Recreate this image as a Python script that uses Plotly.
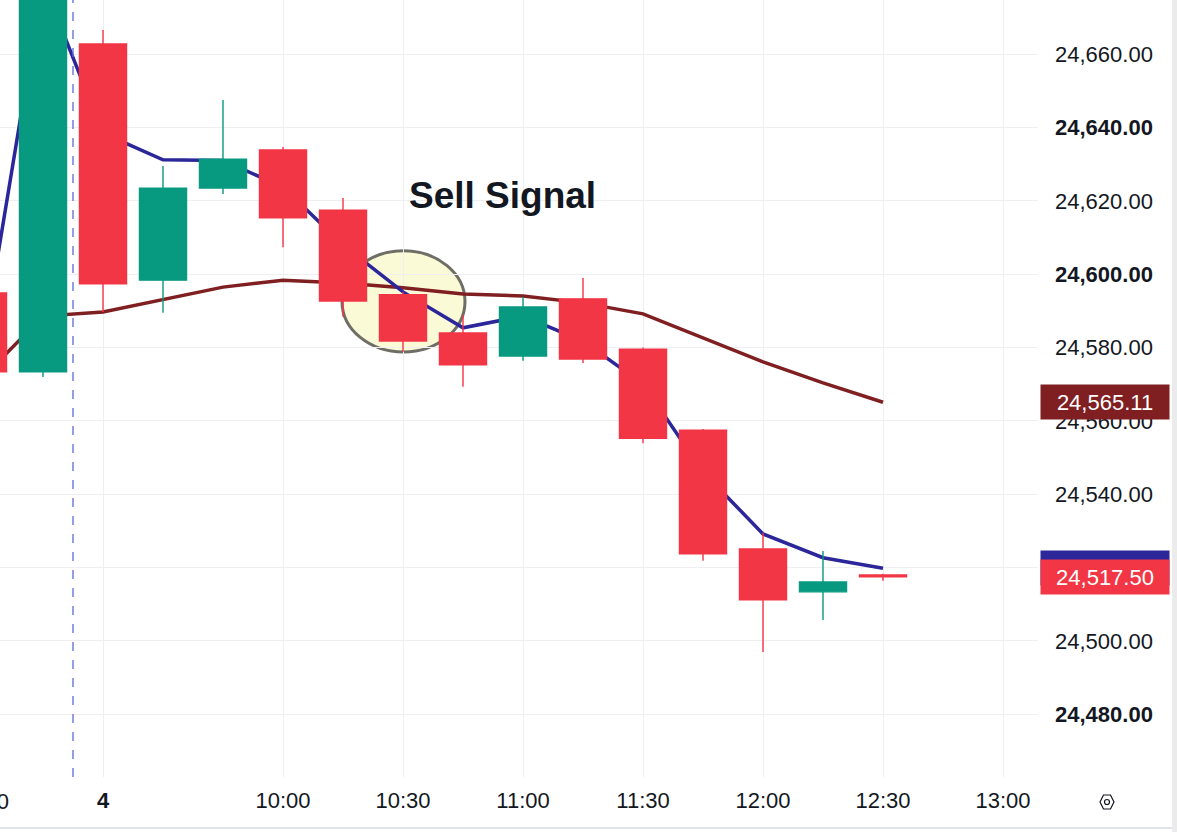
import plotly.graph_objects as go

# 15 minute candles, NIFTY style, previous day's last two bars + day 4 morning
times = ["2024-12-03 15:00", "2024-12-03 15:15",
         "2024-12-04 09:15", "2024-12-04 09:30", "2024-12-04 09:45", "2024-12-04 10:00",
         "2024-12-04 10:15", "2024-12-04 10:30", "2024-12-04 10:45", "2024-12-04 11:00",
         "2024-12-04 11:15", "2024-12-04 11:30", "2024-12-04 11:45", "2024-12-04 12:00",
         "2024-12-04 12:15", "2024-12-04 12:30"]
opens = [24594.9, 24573.4, 24662.8, 24598.4, 24623.5, 24633.9, 24617.5, 24594.4,
         24584.0, 24577.7, 24593.3, 24579.6, 24557.5, 24525.1, 24513.4, 24518.0]
highs = [24597.0, 24712.0, 24666.6, 24629.5, 24647.5, 24634.7, 24620.8, 24595.2,
         24588.9, 24593.8, 24599.0, 24580.0, 24557.8, 24529.5, 24524.5, 24518.3]
lows = [24571.0, 24572.0, 24589.7, 24589.5, 24621.9, 24607.4, 24588.4, 24578.8,
        24569.3, 24576.4, 24575.8, 24553.9, 24521.9, 24497.0, 24505.7, 24516.4]
closes = [24573.4, 24705.0, 24597.4, 24623.5, 24631.4, 24615.4, 24592.7, 24581.8,
          24575.3, 24591.1, 24576.9, 24555.3, 24523.8, 24511.2, 24516.1, 24517.5]

fast_ma = [24580.7, 24679.7, 24638.5, 24631.2, 24631.0, 24623.8, 24608.0, 24595.2,
           24585.4, 24588.6, 24581.8, 24570.1, 24546.1, 24529.2, 24522.7, 24519.81]
slow_ma = [24571.9, 24588.6, 24589.7, 24593.0, 24596.5, 24598.4, 24597.6, 24596.3,
           24594.6, 24594.1, 24592.2, 24589.2, 24582.6, 24576.1, 24570.4, 24565.11]

x_ticks = ["2024-12-04 09:15", "2024-12-04 10:00", "2024-12-04 10:30", "2024-12-04 11:00",
           "2024-12-04 11:30", "2024-12-04 12:00", "2024-12-04 12:30", "2024-12-04 13:00"]
x_labels = ["<b>4</b>", "10:00", "10:30", "11:00", "11:30", "12:00", "12:30", "13:00"]
y_ticks = [24480, 24500, 24520, 24540, 24560, 24580, 24600, 24620, 24640, 24660]
bold_ticks = [24480, 24600, 24640]

UP = "#089981"
DOWN = "#F23645"
FAST = "#2B2699"
SLOW = "#801F22"
TXT = "#131722"
GRID = "#EFEFF2"
FONT = "Liberation Sans"

W, H = 1177, 832
L, R, T, B = 0, 139, 0, 55
pw, ph = W - L - R, H - T - B

X_RANGE = ["2024-12-03 15:04:15", "2024-12-04 13:08:45"]
Y_RANGE = [24462.9, 24674.8]
BREAKS = [dict(bounds=[15.5, 9.25], pattern="hour")]


def px(x):
    return (x - L) / pw


def py(y):
    return (H - B - y) / ph


fig = go.Figure()

# moving averages on the main axes
fig.add_trace(go.Scatter(x=times, y=slow_ma, mode="lines",
                         line=dict(color=SLOW, width=3.5), showlegend=False))
fig.add_trace(go.Scatter(x=times, y=fast_ma, mode="lines",
                         line=dict(color=FAST, width=3.5), showlegend=False))

# candles on an overlaid axis pair so they draw on top of the lines
fig.add_trace(go.Candlestick(
    x=times, open=opens, high=highs, low=lows, close=closes,
    xaxis="x2", yaxis="y2",
    increasing=dict(line=dict(color=UP, width=1.4), fillcolor=UP),
    decreasing=dict(line=dict(color=DOWN, width=1.4), fillcolor=DOWN),
    showlegend=False))

# session break
fig.add_shape(type="line", xref="x", yref="paper", x0="2024-12-03 15:22:30", x1="2024-12-03 15:22:30",
              y0=0, y1=1, line=dict(color="#5B6BD6", width=1.3, dash="dash"))

# highlight circle
fig.add_shape(type="circle", xref="x", yref="y", layer="below",
              x0="2024-12-04 10:14:45", x1="2024-12-04 10:45:30", y0=24578.8, y1=24606.4,
              fillcolor="#FAFAD6", line=dict(color="#6E6E66", width=3))

fig.add_annotation(text="<b>Sell Signal</b>", xref="paper", yref="paper",
                   x=px(502), y=py(196), xanchor="center", yanchor="middle", showarrow=False,
                   font=dict(family=FONT, size=37, color=TXT))

# partially hidden previous-day label
fig.add_annotation(text="15:00", xref="paper", yref="paper", x=px(-19), y=py(801),
                   xanchor="center", yanchor="middle", showarrow=False,
                   font=dict(family=FONT, size=22, color=TXT))

# last value labels on price scale
for val, col in [(slow_ma[-1], SLOW), (fast_ma[-1], FAST), (closes[-1], DOWN)]:
    fig.add_annotation(text=f"{val:,.2f}", xref="paper", yref="y", x=px(1040), y=val,
                       xanchor="left", yanchor="middle", showarrow=False, width=124, height=30,
                       borderpad=2, bgcolor=col, font=dict(family=FONT, size=22, color="white"))

# right strip and bottom border
fig.add_shape(type="rect", xref="paper", yref="paper", x0=px(1172), x1=px(1180), y0=py(835), y1=py(-3),
              fillcolor="#EBEBEB", line=dict(width=0))
fig.add_shape(type="line", xref="paper", yref="paper", x0=px(0), x1=px(1172), y0=py(828), y1=py(828),
              line=dict(color="#E0E3EB", width=2))

# settings icon
hx, hy, r = 1107, 802, 7
hexpath = f"M {px(hx - r)} {py(hy)} L {px(hx - r / 2)} {py(hy - r)} L {px(hx + r / 2)} {py(hy - r)} " \
          f"L {px(hx + r)} {py(hy)} L {px(hx + r / 2)} {py(hy + r)} L {px(hx - r / 2)} {py(hy + r)} Z"
fig.add_shape(type="path", xref="paper", yref="paper", path=hexpath, line=dict(color=TXT, width=1.2))
fig.add_shape(type="circle", xref="paper", yref="paper", x0=px(hx - 2.5), x1=px(hx + 2.5),
              y0=py(hy + 2.5), y1=py(hy - 2.5), line=dict(color=TXT, width=1.2))

y_labels = [f"<b>{v:,.2f}</b>" if v in bold_ticks else f"{v:,.2f}" for v in y_ticks]

fig.update_layout(
    width=W, height=H, margin=dict(l=L, r=R, t=T, b=B),
    paper_bgcolor="white", plot_bgcolor="white",
    boxgap=0.2, boxgroupgap=0.02,
    xaxis=dict(type="date", rangebreaks=BREAKS, range=X_RANGE,
               tickvals=x_ticks, ticktext=x_labels, showgrid=True, gridcolor=GRID,
               zeroline=False, showline=False, ticks="", ticklabelstandoff=8,
               tickfont=dict(family=FONT, size=22, color=TXT)),
    yaxis=dict(side="right", range=Y_RANGE, tickvals=y_ticks, ticktext=y_labels,
               showgrid=True, gridcolor=GRID, zeroline=False, showline=False, ticks="",
               ticklabelstandoff=16, tickfont=dict(family=FONT, size=22, color=TXT)),
    xaxis2=dict(type="date", overlaying="x", rangebreaks=BREAKS, range=X_RANGE,
                rangeslider=dict(visible=False), showticklabels=False, showgrid=False,
                zeroline=False, showline=False, ticks=""),
    yaxis2=dict(overlaying="y", side="right", range=Y_RANGE, showticklabels=False,
                showgrid=False, zeroline=False, showline=False, ticks=""),
)

fig.write_html("out.html", config={"displayModeBar": False},
               post_script="document.body.style.margin='0';")
